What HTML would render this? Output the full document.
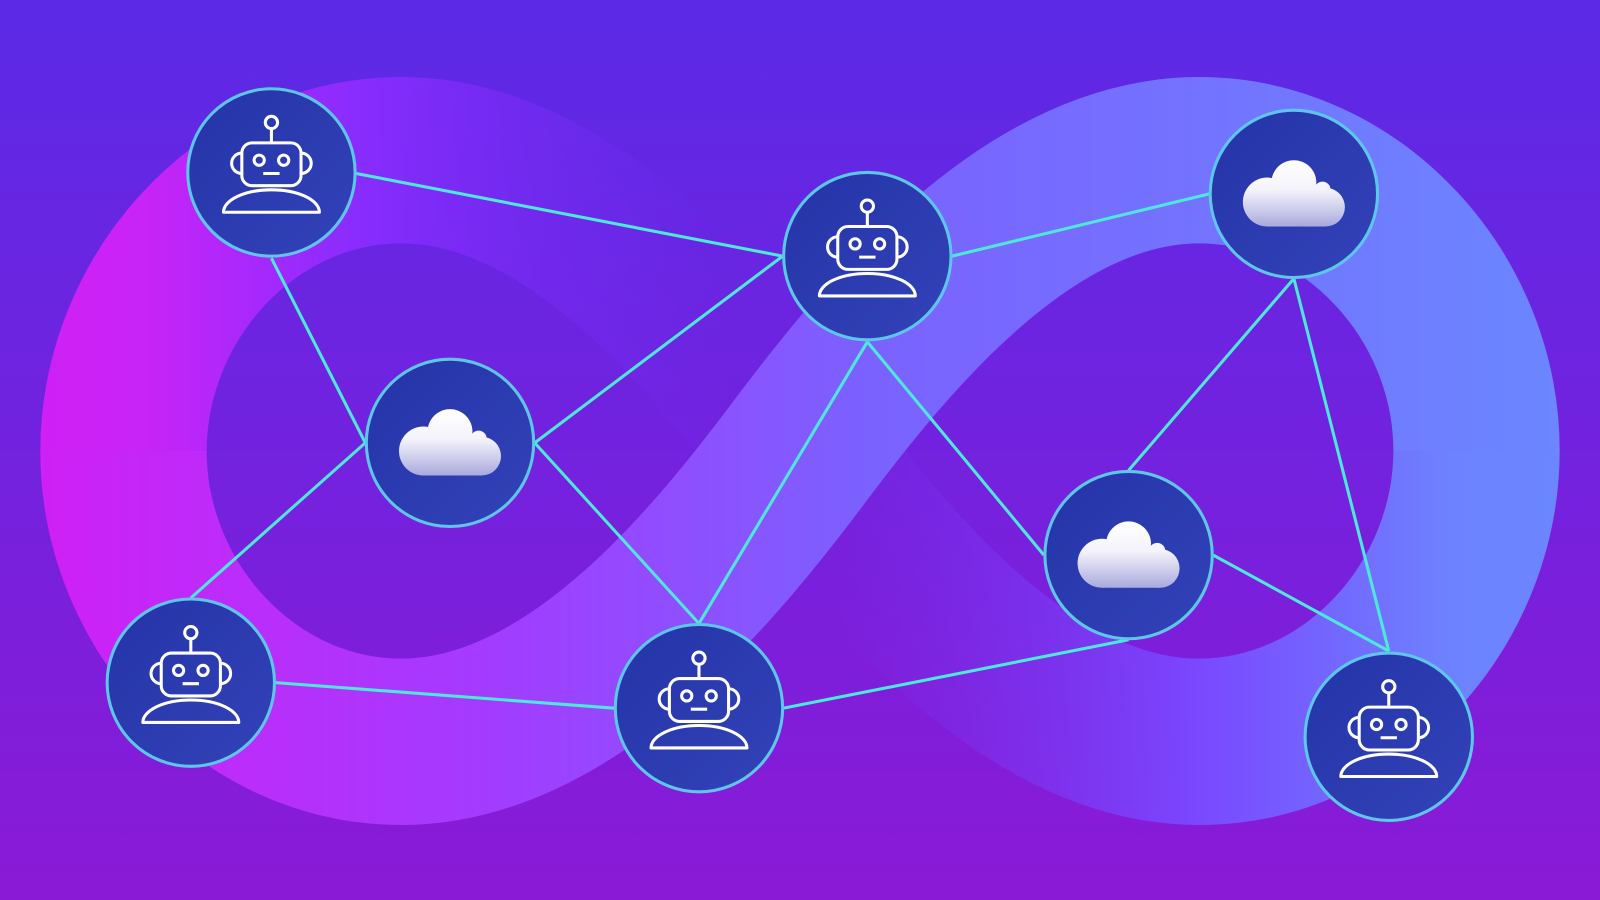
<!DOCTYPE html>
<html><head><meta charset="utf-8"><style>html,body{margin:0;padding:0;width:1600px;height:900px;overflow:hidden}svg{display:block}</style></head>
<body>
<svg width="1600" height="900" viewBox="0 0 1568 882" preserveAspectRatio="none" xmlns="http://www.w3.org/2000/svg">
<defs>
<linearGradient id="bg" x1="0" y1="0" x2="0" y2="1"><stop offset="0" stop-color="#5b2ae6"/><stop offset="1" stop-color="#8a1ad6"/></linearGradient>
<linearGradient id="band" gradientUnits="userSpaceOnUse" x1="40" y1="442" x2="1528" y2="442"><stop offset="0" stop-color="#cf20f6"/><stop offset="0.3" stop-color="#a23cff"/><stop offset="0.55" stop-color="#7a62ff"/><stop offset="1" stop-color="#6b86ff"/></linearGradient>
<linearGradient id="fadeL" gradientUnits="userSpaceOnUse" x1="40" y1="0" x2="720" y2="0"><stop offset="0" stop-color="#cf20f6"/><stop offset="0.15" stop-color="#c824f7"/><stop offset="0.45" stop-color="#8a2cff"/><stop offset="1" stop-color="#6a2cf0" stop-opacity="0"/></linearGradient>
<linearGradient id="fadeR" gradientUnits="userSpaceOnUse" x1="1528" y1="0" x2="820" y2="0"><stop offset="0" stop-color="#6b86ff"/><stop offset="0.15" stop-color="#6d82ff"/><stop offset="0.5" stop-color="#7a48ff"/><stop offset="1" stop-color="#7a30ee" stop-opacity="0"/></linearGradient>
<linearGradient id="node" x1="0" y1="0" x2="1" y2="1"><stop offset="0" stop-color="#2434a8"/><stop offset="1" stop-color="#3342b8"/></linearGradient>
<linearGradient id="cg" gradientUnits="userSpaceOnUse" x1="0" y1="-33" x2="0" y2="32"><stop offset="0" stop-color="#ffffff"/><stop offset="0.45" stop-color="#f4f3fb"/><stop offset="1" stop-color="#a9a9dd"/></linearGradient>
<g id="robot" fill="none" stroke="#fff" stroke-width="3">
<circle cx="0" cy="-49" r="6"/><line x1="0" y1="-43" x2="0" y2="-29"/>
<rect x="-29" y="-29" width="58" height="42" rx="10"/>
<path d="M-29 -19 a8 8 0 0 0 0 20 M29 -19 a8 8 0 0 1 0 20"/>
<circle cx="-12" cy="-12" r="5"/><circle cx="12" cy="-12" r="5"/>
<line x1="-8" y1="1" x2="8" y2="1"/>
<path d="M-47 39 L47 39 A47 22 0 0 0 -47 39 Z" stroke-linejoin="round"/>
</g>
<g id="cloud" fill="url(#cg)">
<circle cx="-26" cy="8" r="24"/><circle cx="0" cy="-11" r="22"/><circle cx="31" cy="13" r="19"/><circle cx="28" cy="-4" r="8"/>
<rect x="-26" y="8" width="57" height="24"/><rect x="-20" y="-5" width="46" height="20"/>
</g>
</defs>
<rect width="1568" height="882" fill="url(#bg)"/>
<path d="M121 443 C121 290 243 157 393 157 C560 157 700 330 784 442" fill="none" stroke="url(#fadeL)" stroke-width="163"/>
<path d="M784 442 C868 554 1008 727 1175 727 C1325 727 1447 594 1447 441" fill="none" stroke="url(#fadeR)" stroke-width="163"/>
<path d="M121 442 C121 594 243 727 393 727 C560 727 700 554 784 442 C868 330 1008 157 1175 157 C1325 157 1447 290 1447 442" fill="none" stroke="url(#band)" stroke-width="163"/>
<g stroke="#4ee8d8" stroke-width="3">
<line x1="349" y1="170" x2="767" y2="251"/>
<line x1="266" y1="253" x2="358" y2="434"/>
<line x1="524" y1="434" x2="767" y2="251"/>
<line x1="358" y1="434" x2="187" y2="586"/>
<line x1="524" y1="434" x2="685" y2="611"/>
<line x1="850" y1="335" x2="685" y2="611"/>
<line x1="850" y1="335" x2="1023" y2="544"/>
<line x1="933" y1="251" x2="1185" y2="190"/>
<line x1="1268" y1="273" x2="1106" y2="461"/>
<line x1="1268" y1="273" x2="1361" y2="638"/>
<line x1="1189" y1="544" x2="1361" y2="638"/>
<line x1="270" y1="669" x2="602" y2="694"/>
<line x1="768" y1="694" x2="1106" y2="627"/>
</g>
<g fill="url(#node)" stroke="#5ec6ea" stroke-width="3">
<circle cx="266" cy="169" r="82"/><circle cx="441" cy="434" r="82"/><circle cx="850" cy="251" r="82"/>
<circle cx="1268" cy="190" r="82"/><circle cx="1106" cy="544" r="82"/><circle cx="187" cy="669" r="82"/>
<circle cx="685" cy="694" r="82"/><circle cx="1361" cy="722" r="82"/>
</g>
<use href="#robot" x="266" y="169"/><use href="#robot" x="850" y="251"/><use href="#robot" x="187" y="669"/>
<use href="#robot" x="685" y="694"/><use href="#robot" x="1361" y="722"/>
<use href="#cloud" x="441" y="434"/><use href="#cloud" x="1268" y="190"/><use href="#cloud" x="1106" y="544"/>
</svg>
</body></html>
